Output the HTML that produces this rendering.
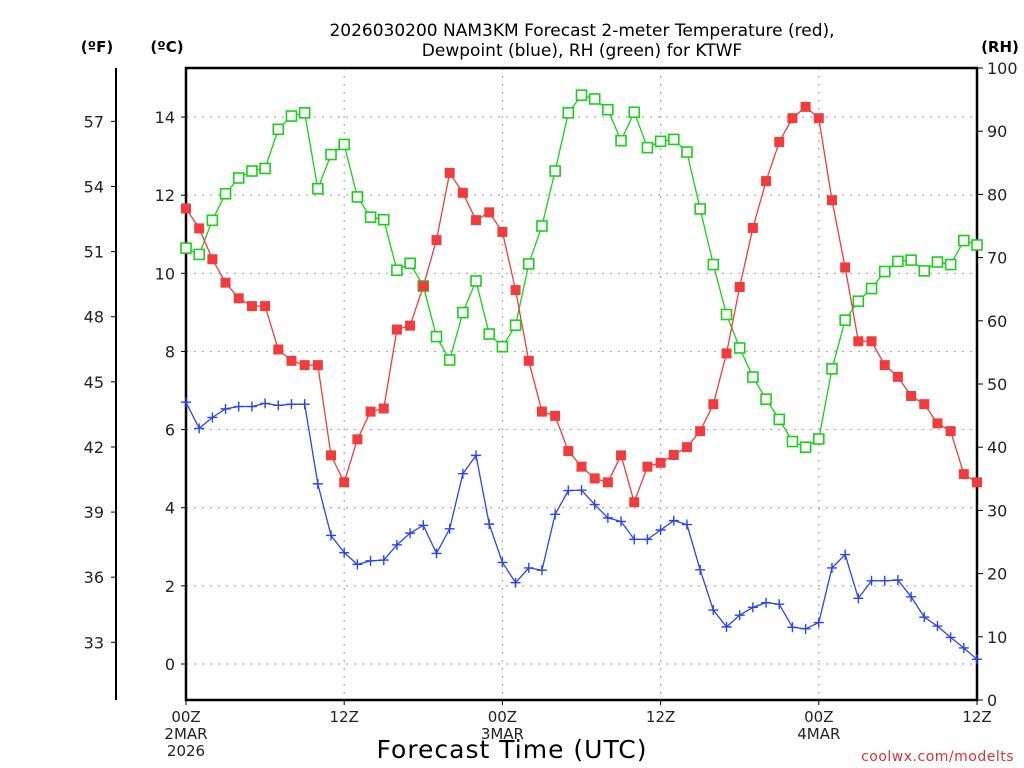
<!DOCTYPE html>
<html><head><meta charset="utf-8">
<style>
html,body{margin:0;padding:0;background:#fff;width:1024px;height:768px;overflow:hidden}
svg{display:block;font-family:"DejaVu Sans","Liberation Sans",sans-serif}
</style></head>
<body>
<svg id="chart" width="1024" height="768" viewBox="0 0 1024 768" xmlns="http://www.w3.org/2000/svg">
<rect width="1024" height="768" fill="#fff"/>
<text x="582" y="36" text-anchor="middle" font-size="17" fill="#000">2026030200 NAM3KM Forecast 2-meter Temperature (red),</text>
<text x="582" y="56" text-anchor="middle" font-size="17" fill="#000">Dewpoint (blue), RH (green) for KTWF</text>
<text x="97" y="52" text-anchor="middle" font-size="15" font-weight="bold">(ºF)</text>
<text x="167" y="52" text-anchor="middle" font-size="15" font-weight="bold">(ºC)</text>
<text x="1000" y="52" text-anchor="middle" font-size="15" font-weight="bold">(RH)</text>
<text x="512" y="758" text-anchor="middle" font-size="25" letter-spacing="1">Forecast Time (UTC)</text>
<text x="1014" y="761" text-anchor="end" font-size="14" fill="#e03030" letter-spacing="0.5">coolwx.com/modelts</text>
<g id="grid"></g>
<g id="axes"></g>
<g id="series"></g>
</svg>
<script>
const hours = [];
for (let i = 0; i <= 60; i++) hours.push(i);
const tempC = [11.66,11.15,10.36,9.76,9.36,9.16,9.16,8.05,7.76,7.65,7.65,5.34,4.65,5.75,6.46,6.54,8.56,8.66,9.67,10.85,12.57,12.06,11.36,11.56,11.06,9.57,7.76,6.46,6.35,5.45,5.05,4.75,4.65,5.34,4.14,5.05,5.15,5.35,5.55,5.96,6.65,7.95,9.65,11.16,12.36,13.36,13.97,14.26,13.97,11.87,10.15,8.26,8.26,7.65,7.35,6.86,6.65,6.16,5.96,4.86,4.65];
const dewC = [6.70,6.03,6.31,6.53,6.59,6.59,6.67,6.62,6.65,6.65,4.61,3.29,2.85,2.55,2.64,2.66,3.05,3.35,3.55,2.83,3.46,4.87,5.34,3.58,2.60,2.08,2.46,2.40,3.83,4.44,4.45,4.08,3.74,3.65,3.19,3.19,3.43,3.67,3.57,2.41,1.38,0.95,1.25,1.45,1.57,1.53,0.94,0.90,1.06,2.46,2.80,1.68,2.13,2.13,2.15,1.72,1.20,0.97,0.68,0.41,0.12];
const rh = [71.5,70.5,75.9,80.1,82.6,83.7,84.1,90.3,92.4,92.9,80.9,86.3,87.9,79.6,76.4,76.0,68.0,69.1,65.5,57.5,53.8,61.3,66.3,57.9,55.9,59.3,69.0,75.0,83.7,92.9,95.7,95.1,93.4,88.5,93.0,87.4,88.4,88.7,86.7,77.7,68.9,61.0,55.7,51.1,47.6,44.4,40.9,40.0,41.3,52.4,60.1,63.1,65.1,67.8,69.4,69.6,67.9,69.3,68.9,72.7,72.0];
const cTicks = [0,2,4,6,8,10,12,14];
const fTicks = [33,36,39,42,45,48,51,54,57];
const rhTicks = [0,10,20,30,40,50,60,70,80,90,100];
const xTickHours = [0,12,24,36,48,60];
const xTickLabels = [["00Z","2MAR","2026"],["12Z"],["00Z","3MAR"],["12Z"],["00Z","4MAR"],["12Z"]];

const L=186,R=977,T=68,B=700;
const x = h => L + (h/60)*(R-L);
const yC = c => 664 - c*39.07;
const yF = f => yC((f-32)/1.8);
const yRH = r => B - r*(B-T)/100;
const NS="http://www.w3.org/2000/svg";
function mk(tag, attrs, parent){const e=document.createElementNS(NS,tag);for(const k in attrs)e.setAttribute(k,attrs[k]);parent.appendChild(e);return e;}
const grid=document.getElementById('grid'), axes=document.getElementById('axes'), series=document.getElementById('series');

cTicks.forEach(c=>{
  const y=yC(c);
  const g=mk('line',{x1:L,x2:R,y1:y,y2:y,stroke:'#aaa','stroke-width':1.2,'stroke-dasharray':'2,6'},grid);
  
  
  mk('line',{x1:L-5,x2:L,y1:y,y2:y,stroke:'#000','stroke-width':1},axes);
  const t=mk('text',{x:L-11,y:y+6,'text-anchor':'end','font-size':16,fill:'#222'},axes);
  t.textContent=c;
  
  
});
xTickHours.forEach((h,i)=>{
  const xx=x(h);
  if(h>0&&h<60){
    const g=mk('line',{x1:xx,x2:xx,y1:T,y2:B,stroke:'#aaa','stroke-width':1.2,'stroke-dasharray':'2,6'},grid);
    
    
  }
  mk('line',{x1:xx,x2:xx,y1:B,y2:B+5,stroke:'#000','stroke-width':1},axes);
  xTickLabels[i].forEach((s,j)=>{
    const t=mk('text',{x:xx,y:B+22+j*17,'text-anchor':'middle','font-size':15,fill:'#222'},axes);
    t.textContent=s;
    
    
  });
});
// F axis
const fa=mk('line',{x1:116,x2:116,y1:T,y2:B,stroke:'#000','stroke-width':2},axes);


fTicks.forEach(f=>{
  const y=yF(f);
  mk('line',{x1:111,x2:116,y1:y,y2:y,stroke:'#000','stroke-width':1},axes);
  const t=mk('text',{x:104,y:y+6,'text-anchor':'end','font-size':16,fill:'#222'},axes);
  t.textContent=f;
  
  
});
rhTicks.forEach(r=>{
  const y=yRH(r);
  mk('line',{x1:R,x2:R+6,y1:y,y2:y,stroke:'#000','stroke-width':1},axes);
  const t=mk('text',{x:R+10,y:y+6,'text-anchor':'start','font-size':16,fill:'#222'},axes);
  t.textContent=r;
  
  
});
const box=mk('rect',{x:L,y:T,width:R-L,height:B-T,fill:'none',stroke:'#000','stroke-width':2.5},axes);



function line(vals, yf, color, name){
  const p=mk('polyline',{points:vals.map((v,i)=>x(hours[i])+','+yf(v)).join(' '),fill:'none',stroke:color,'stroke-width':1.3},series);
  
  
}
line(rh,yRH,'#18d018','rh-line');
line(tempC,yC,'#f03c3c','temperature-line');
line(dewC,yC,'#2a44f0','dewpoint-line');
rh.forEach((v,i)=>{
  const r=mk('rect',{x:x(hours[i])-5,y:yRH(v)-5,width:10,height:10,fill:'#fff',stroke:'#18d018','stroke-width':1.6},series);
  
  
});
tempC.forEach((v,i)=>{
  const r=mk('rect',{x:x(hours[i])-5,y:yC(v)-5,width:10,height:10,fill:'#f03c3c'},series);
  
  
});
dewC.forEach((v,i)=>{
  const xx=x(hours[i]),yy=yC(v);
  const p=mk('path',{d:`M${xx-5},${yy}H${xx+5}M${xx},${yy-5}V${yy+5}`,stroke:'#2a44f0','stroke-width':1.4},series);
  
  
});
</script>
</body></html>
